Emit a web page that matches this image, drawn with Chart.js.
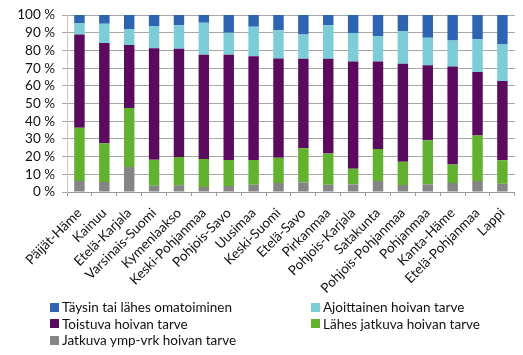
<!DOCTYPE html>
<html>
<head>
<meta charset="utf-8">
<script src="https://cdn.jsdelivr.net/npm/chart.js@4"></script>
<style>
  html, body { margin: 0; padding: 0; background: #fff; }
  #wrap { position: relative; width: 523px; height: 355px; overflow: hidden; }
  #cv { position: absolute; left: 0; top: 0; }
  #legend { position: absolute; left: 50px; top: 299px; width: 470px;
    display: grid; grid-template-columns: 261px 205px; row-gap: 0px;
    font-family: Lato, "Open Sans", sans-serif; font-size: 13.5px; color: #111; }
  .li { display: flex; align-items: center; height: 16.5px; white-space: nowrap; }
  .sw { width: 9px; height: 9px; margin-right: 3px; flex: none; }
</style>
</head>
<body>
<div id="wrap">
  <canvas id="cv" width="523" height="355"></canvas>
  <div id="legend"></div>
</div>
<script>
const categories = ["Päijät-Häme", "Kainuu", "Etelä-Karjala", "Varsinais-Suomi", "Kymenlaakso",
  "Keski-Pohjanmaa", "Pohjois-Savo", "Uusimaa", "Keski-Suomi", "Etelä-Savo", "Pirkanmaa",
  "Pohjois-Karjala", "Satakunta", "Pohjois-Pohjanmaa", "Pohjanmaa", "Kanta-Häme",
  "Etelä-Pohjanmaa", "Lappi"];
const jatkuva      = [6.2, 5.6, 14.1, 3.6, 3.8, 2.8, 3.4, 4.1, 5.1, 5.3, 4.1, 4.3, 6.2, 4.0, 4.3, 5.1, 6.2, 4.7];
const lahesJatkuva = [30.1, 21.9, 33.4, 14.7, 16.0, 15.8, 14.7, 14.0, 14.3, 19.4, 17.6, 8.9, 18.1, 13.1, 24.9, 10.5, 25.8, 13.2];
const toistuva     = [52.8, 56.7, 35.6, 62.9, 61.2, 59.0, 59.5, 58.7, 56.1, 50.6, 53.6, 60.6, 49.5, 55.4, 42.4, 55.4, 35.8, 44.8];
const ajoittainen  = [6.4, 10.9, 9.0, 12.6, 13.2, 18.1, 12.4, 16.6, 16.0, 13.8, 18.9, 16.0, 14.3, 18.5, 15.6, 14.7, 18.5, 20.7];
const taysin       = [4.5, 4.9, 7.9, 6.2, 5.8, 4.3, 10.0, 6.6, 8.5, 10.9, 5.8, 10.2, 11.9, 9.0, 12.8, 14.3, 13.7, 16.6];
const seriesNames = ["Jatkuva ymp-vrk hoivan tarve", "Lähes jatkuva hoivan tarve", "Toistuva hoivan tarve",
  "Ajoittainen hoivan tarve", "Täysin tai lähes omatoiminen"];
const yTicks = [0, 10, 20, 30, 40, 50, 60, 70, 80, 90, 100];

const colors = ["#858585", "#62B22F", "#5A0B5E", "#7CCDD8", "#2F64B2"];
const values = [jatkuva, lahesJatkuva, toistuva, ajoittainen, taysin];

const datasets = values.map((v, i) => ({
  label: seriesNames[i],
  data: v,
  backgroundColor: colors[i],
  borderWidth: 0,
  categoryPercentage: 1.0,
  barPercentage: 0.42
}));

const font = { family: "Lato, 'Open Sans', sans-serif", size: 13.5 };

new Chart(document.getElementById('cv'), {
  type: 'bar',
  data: { labels: categories, datasets },
  options: {
    responsive: false,
    animation: false,
    layout: { padding: { top: 11, right: 5, left: 0, bottom: 0 } },
    plugins: { legend: { display: false }, tooltip: { enabled: false } },
    scales: {
      x: {
        stacked: true,
        afterFit: (s) => { s.height = 163; },
        grid: { display: true, drawOnChartArea: false, drawTicks: true, tickLength: 4, color: '#9a9a9a', offset: true },
        border: { display: true, color: '#9a9a9a' },
        ticks: { color: '#111', font, minRotation: 45, maxRotation: 45, autoSkip: false, padding: 9 }
      },
      y: {
        stacked: true,
        min: 0, max: 100,
        afterFit: (s) => { s.width = 67; },
        afterBuildTicks: (axis) => { axis.ticks = yTicks.map(v => ({ value: v })); },
        grid: { color: '#a8a8a8', tickLength: 5, drawTicks: true },
        border: { display: true, color: '#c8c8c8' },
        ticks: { color: '#111', font, padding: 7, autoSkip: false, callback: (v) => v + ' %' }
      }
    }
  }
});

// HTML legend in two columns, reading order as in the reference
const order = [4, 3, 2, 1, 0];
const lg = document.getElementById('legend');
order.forEach(i => {
  const d = document.createElement('div');
  d.className = 'li';
  d.innerHTML = '<span class="sw" style="background:' + colors[i] + '"></span><span></span>';
  d.lastChild.textContent = seriesNames[i];
  lg.appendChild(d);
});
</script>
</body>
</html>
